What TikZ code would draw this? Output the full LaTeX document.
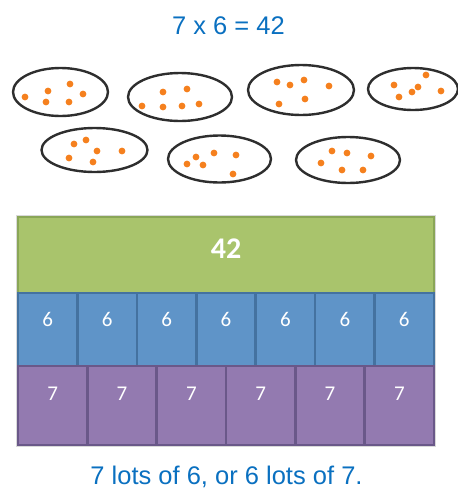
\documentclass[tikz,border=0pt]{standalone}
\usepackage{fontspec}
\setmainfont{Liberation Sans}
\newfontfamily\barfont{Carlito}
\usetikzlibrary{shapes.geometric, positioning}

\definecolor{titleblue}{HTML}{0A70C0}
\definecolor{dotorange}{HTML}{F5801E}
\definecolor{ringgray}{HTML}{2E2E2E}
\definecolor{wholefill}{HTML}{A9C46C}
\definecolor{wholeedge}{HTML}{8AA657}
\definecolor{sixfill}{HTML}{5F94C8}
\definecolor{sixedge}{HTML}{4472A0}
\definecolor{sevenfill}{HTML}{937AB0}
\definecolor{sevenedge}{HTML}{6A5889}

\begin{document}
\begin{tikzpicture}[
    x=1pt, y=-1pt,
    heading/.style={font=\fontsize{25.5}{30}\selectfont, text=titleblue, anchor=base, inner sep=0pt},
    group/.style={ellipse, draw=ringgray, line width=2.4pt, inner sep=0pt},
    counter/.style={circle, fill=dotorange, inner sep=0pt, minimum size=6.8pt},
    cell/.style={rectangle, line width=2.6pt, inner sep=0pt},
    whole/.style={cell, fill=wholefill, draw=wholeedge, minimum width=416pt, minimum height=76pt},
    sixcell/.style={cell, fill=sixfill, draw=sixedge, minimum width=416pt/7, minimum height=73pt},
    sevencell/.style={cell, fill=sevenfill, draw=sevenedge, minimum width=416pt/6, minimum height=79pt},
    barnum/.style={font=\barfont\fontsize{21}{25}\selectfont, text=white, anchor=base, inner sep=0pt}
]
\useasboundingbox (0,0) rectangle (458,488);

% sum at the top
\node[heading] (sum) at (228.5,34) {7 x 6 = 42};

% seven groups of six
\node[group, minimum width=95pt,  minimum height=48pt] (g1) at (60.5,92)  {};
\node[group, minimum width=104pt, minimum height=48pt] (g2) at (180,97)   {};
\node[group, minimum width=106pt, minimum height=50pt] (g3) at (301,90)   {};
\node[group, minimum width=90pt,  minimum height=42pt] (g4) at (413,89)   {};
\node[group, minimum width=106pt, minimum height=44pt] (g5) at (94.5,150) {};
\node[group, minimum width=103pt, minimum height=47pt] (g6) at (219.5,159) {};
\node[group, minimum width=104pt, minimum height=46pt] (g7) at (348,160)  {};

% counters inside the groups
\foreach \p [count=\k] in {
    {25,97}, {48,91}, {70,84}, {83,94}, {46,102}, {69,102},
    {163,92}, {187,89}, {142,106}, {163,107}, {182,106}, {199,104},
    {277,82}, {290,85}, {304,80}, {329,86}, {279,104}, {305,99},
    {426,75}, {394,85}, {418,87}, {412,92}, {441,91}, {399,97},
    {74,144}, {86,140}, {97,151}, {122,151}, {69,158}, {93,162},
    {196,157}, {214,153}, {236,155}, {187,164}, {203,165}, {233,174},
    {332,151}, {347,153}, {371,156}, {321,163}, {342,170}, {363,170}} {
    \node[counter] (c\k) at (\p) {};
}

% bar model
\draw[gray!30, line width=1pt] (16.5,215.5) rectangle (435.5,446.5);
\node[whole] (total) at (226,255) {};
\node[barnum, font=\barfont\bfseries\fontsize{30}{34}\selectfont] (totallbl) at ([yshift=-43pt]total.north) {42};

\foreach \i in {1,...,7} {
    \node[sixcell] (six\i) at ({18+(\i-0.5)*416/7},329.5) {};
    \node[barnum] (sixlbl\i) at ([yshift=-35pt]six\i.north) {6};
}

\foreach \i in {1,...,6} {
    \node[sevencell] (seven\i) at ({18+(\i-0.5)*416/6},405.5) {};
    \node[barnum] (sevenlbl\i) at ([yshift=-36pt]seven\i.north) {7};
}

% caption
\node[heading] (caption) at (226.5,484) {7 lots of 6, or 6 lots of 7.};

\end{tikzpicture}
\end{document}
